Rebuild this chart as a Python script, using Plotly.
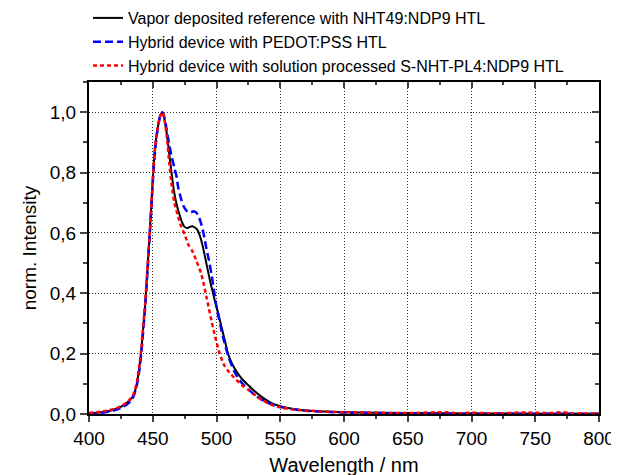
import plotly.graph_objects as go

# Vapor deposited reference (black)
wl_vapor = [400, 410, 420, 426, 430, 434, 437, 439, 441, 442, 444, 446, 447.6, 449, 450.5, 452, 454, 456, 457.5,
            459, 461, 463, 465, 467, 469, 471, 473, 475, 477, 479, 481, 483, 485, 487, 489, 491, 493, 495, 497,
            499, 501, 503, 505, 507, 509, 512, 516, 520, 525, 530, 536, 543, 550, 556, 565, 580, 600, 650, 700, 750, 800]
int_vapor = [0.002, 0.006, 0.015, 0.026, 0.038, 0.055, 0.09, 0.14, 0.21, 0.26, 0.36, 0.49, 0.60, 0.70, 0.81, 0.89, 0.95, 0.99, 1.0,
             0.98, 0.93, 0.86, 0.79, 0.73, 0.69, 0.66, 0.635, 0.62, 0.616, 0.62, 0.622, 0.618, 0.61, 0.59, 0.56, 0.52, 0.48, 0.44, 0.405,
             0.37, 0.34, 0.305, 0.27, 0.235, 0.2, 0.168, 0.139, 0.116, 0.095, 0.075, 0.055, 0.036, 0.026, 0.02, 0.014, 0.009, 0.006, 0.003, 0.002, 0.001, 0.001]

# Hybrid device with PEDOT:PSS (blue)
wl_pedot = [400, 410, 420, 426, 430, 434, 437, 439, 441, 442, 444, 446, 447.6, 449, 450.5, 452, 454, 456, 457.5,
            459, 461, 463, 465, 467, 468.5, 470, 472.4, 474, 476, 478, 480, 482, 484, 486, 488, 490, 492, 494, 496,
            498, 500, 503, 506, 510, 515, 520, 525, 530, 537, 545, 555, 570, 600, 650, 700, 750, 800]
int_pedot = [0.001, 0.004, 0.012, 0.022, 0.032, 0.05, 0.085, 0.13, 0.2, 0.25, 0.35, 0.48, 0.59, 0.69, 0.8, 0.88, 0.95, 0.99, 1.0,
             0.985, 0.94, 0.89, 0.85, 0.815, 0.79, 0.75, 0.71, 0.69, 0.676, 0.668, 0.668, 0.672, 0.668, 0.655, 0.63, 0.595, 0.55, 0.51, 0.465,
             0.41, 0.355, 0.295, 0.24, 0.182, 0.133, 0.102, 0.082, 0.063, 0.044, 0.029, 0.019, 0.011, 0.005, 0.002, 0.001, 0.001, 0.001]

# Hybrid device with solution processed S-NHT-PL4:NDP9 (red)
wl_shnt = [400, 410, 420, 426, 430, 434, 437, 439, 441, 442, 444, 446, 447.6, 449, 450.5, 452, 454, 456, 457.5,
           459, 461, 463, 464.6, 467, 469.8, 472, 475, 478, 481, 484, 488, 490, 492, 494, 496, 499, 502.5, 506,
           510, 514, 520, 525, 530, 536, 543, 550, 560, 580, 600, 650, 680, 690, 700, 720, 740, 760, 770, 780, 800]
int_shnt = [0.003, 0.008, 0.017, 0.028, 0.04, 0.058, 0.095, 0.145, 0.215, 0.265, 0.365, 0.495, 0.6, 0.7, 0.81, 0.89, 0.95, 0.99, 1.0,
            0.98, 0.92, 0.83, 0.765, 0.7, 0.655, 0.625, 0.595, 0.56, 0.54, 0.51, 0.465, 0.43, 0.39, 0.35, 0.31, 0.255, 0.2, 0.162,
            0.138, 0.12, 0.095, 0.08, 0.064, 0.045, 0.031, 0.022, 0.015, 0.009, 0.006, 0.003, 0.006, 0.002, 0.004, 0.002, 0.005, 0.003, 0.006, 0.002, 0.002]

names = ["Vapor deposited reference with NHT49:NDP9 HTL",
         "Hybrid device with PEDOT:PSS HTL",
         "Hybrid device with solution processed S-NHT-PL4:NDP9 HTL"]

x_ticks = [400, 450, 500, 550, 600, 650, 700, 750, 800]
y_ticks = [0.0, 0.2, 0.4, 0.6, 0.8, 1.0]
y_ticktext = ["0,0", "0,2", "0,4", "0,6", "0,8", "1,0"]

FONT = "Liberation Sans, Arial, sans-serif"

fig = go.Figure()
fig.add_trace(go.Scatter(x=wl_vapor, y=int_vapor, mode="lines", name=names[0],
                         line=dict(color="black", width=2, shape="spline", smoothing=0.6)))
fig.add_trace(go.Scatter(x=wl_pedot, y=int_pedot, mode="lines", name=names[1],
                         line=dict(color="#0000ff", width=2.5, dash="8px,4px", shape="spline", smoothing=0.6)))
fig.add_trace(go.Scatter(x=wl_shnt, y=int_shnt, mode="lines", name=names[2],
                         line=dict(color="#ff0000", width=2.5, dash="4px,3px", shape="spline", smoothing=0.6)))
# dummy trace to render the mirrored top/right axes
fig.add_trace(go.Scatter(x=[None], y=[None], xaxis="x2", yaxis="y2", showlegend=False, hoverinfo="skip"))

common_axis = dict(showline=True, linecolor="black", linewidth=2, zeroline=False)

fig.update_layout(
    width=619, height=475,
    margin=dict(l=81, r=28, t=74, b=69, autoexpand=False),
    paper_bgcolor="white", plot_bgcolor="white",
    font=dict(family=FONT, color="black"),
    showlegend=True,
    legend=dict(x=(80 - 81) / 510, xanchor="left", y=1 + 81 / 332, yanchor="top",
                font=dict(size=16, family=FONT), bgcolor="rgba(0,0,0,0)",
                tracegroupgap=0, itemwidth=30),
    xaxis=dict(range=[400, 800], tickvals=x_ticks, ticks="outside", ticklen=6, tickwidth=1.5,
               tickfont=dict(size=19), showgrid=True, gridcolor="#333333", griddash="1px,2px", gridwidth=1,
               minor=dict(dtick=25, tick0=400, ticks="outside", ticklen=3, tickwidth=1.5, showgrid=False),
               title=dict(text="Wavelength / nm", font=dict(size=20), standoff=10), **common_axis),
    yaxis=dict(range=[0, 1.1], tickvals=y_ticks, ticktext=y_ticktext, ticks="outside", ticklen=7, tickwidth=1.5,
               tickfont=dict(size=19), showgrid=True, gridcolor="#333333", griddash="1px,2px", gridwidth=1,
               minor=dict(dtick=0.1, tick0=0, ticks="outside", ticklen=4, tickwidth=1.5, showgrid=False),
               title=dict(text="norm. Intensity", font=dict(size=19), standoff=8), **common_axis),
    xaxis2=dict(range=[400, 800], overlaying="x", side="top", tickvals=x_ticks, ticks="inside", ticklen=6,
                tickwidth=1.5, showticklabels=False, showgrid=False,
                minor=dict(dtick=25, tick0=400, ticks="inside", ticklen=3, tickwidth=1.5),
                **common_axis),
    yaxis2=dict(range=[0, 1.1], overlaying="y", side="right", tickvals=y_ticks, ticks="inside", ticklen=7,
                tickwidth=1.5, showticklabels=False, showgrid=False,
                minor=dict(dtick=0.1, tick0=0, ticks="inside", ticklen=4, tickwidth=1.5),
                **common_axis),
)

fig.write_html("out.html")
